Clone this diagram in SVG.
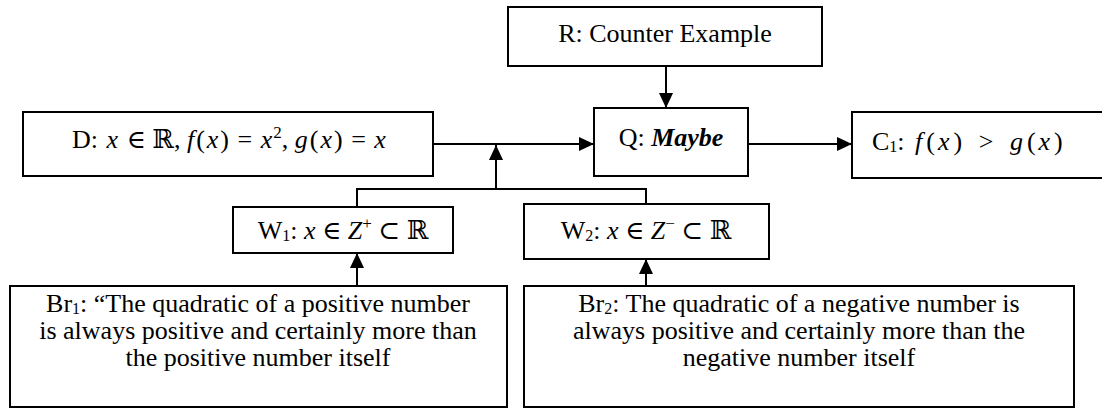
<svg xmlns="http://www.w3.org/2000/svg" width="1102" height="408" viewBox="0 0 1102 408">
<style>
.box{fill:#fff;stroke:#000;stroke-width:2}
.t{font-family:"Liberation Serif","DejaVu Serif",serif;font-size:26px;fill:#000}
.m{font-style:italic}
.c{text-anchor:middle}
.ln{fill:none;stroke:#000;stroke-width:2}
</style>
<defs>
<marker id="ah" markerUnits="userSpaceOnUse" markerWidth="16" markerHeight="14" refX="15" refY="7" orient="auto">
<path d="M0,0 L15,7 L0,14 Z" fill="#000"/>
</marker>
</defs>
<g id="connectors">
<line class="ln" x1="666" y1="66" x2="666" y2="108" marker-end="url(#ah)"/>
<line class="ln" x1="433" y1="144" x2="594" y2="144" marker-end="url(#ah)"/>
<line class="ln" x1="748" y1="144" x2="852" y2="144" marker-end="url(#ah)"/>
<line class="ln" x1="496" y1="189" x2="496" y2="145" marker-end="url(#ah)"/>
<polyline class="ln" points="357,207 357,189 646,189 646,204"/>
<line class="ln" x1="357" y1="286" x2="357" y2="253" marker-end="url(#ah)"/>
<line class="ln" x1="646" y1="286" x2="646" y2="259" marker-end="url(#ah)"/>
</g>
<g id="R">
<rect class="box" x="508" y="7" width="314" height="59"/>
<text class="t c" x="665" y="42">R: Counter Example</text>
</g>
<g id="D">
<rect class="box" x="23" y="112" width="410" height="64"/>
<text class="t" x="72" y="148">D: <tspan class="m" dx="2">x</tspan><tspan dx="2"> ∈ ℝ, </tspan><tspan class="m">f</tspan><tspan dx="2">(</tspan><tspan class="m" dx="2">x</tspan><tspan dx="2">)</tspan><tspan dx="2"> = </tspan><tspan class="m" dx="2">x</tspan><tspan font-size="17" dx="1" dy="-10">2</tspan><tspan dy="10">, </tspan><tspan class="m">g</tspan><tspan dx="2">(</tspan><tspan class="m" dx="2">x</tspan><tspan dx="2">)</tspan><tspan dx="2"> = </tspan><tspan class="m" dx="2">x</tspan></text>
</g>
<g id="Q">
<rect class="box" x="594" y="108" width="154" height="68"/>
<text class="t c" x="671" y="146">Q: <tspan font-weight="bold" font-style="italic">Maybe</tspan></text>
</g>
<g id="C1">
<rect class="box" x="852" y="112" width="260" height="66"/>
<text class="t" x="872" y="150">C<tspan font-size="16" dy="2">1</tspan><tspan dy="-2">: </tspan><tspan class="m" dx="4">f</tspan><tspan dx="4">(</tspan><tspan class="m" dx="3">x</tspan><tspan dx="4">)</tspan><tspan dx="10"> &gt; </tspan><tspan class="m" dx="10">g</tspan><tspan dx="4">(</tspan><tspan class="m" dx="3">x</tspan><tspan dx="4">)</tspan></text>
</g>
<g id="W1">
<rect class="box" x="233" y="207" width="220" height="46"/>
<text class="t c" x="343" y="239">W<tspan font-size="16" dy="2">1</tspan><tspan dy="-2">: </tspan><tspan class="m">x</tspan> ∈ <tspan class="m">Z</tspan><tspan font-size="17" dy="-10">+</tspan><tspan dy="10"> ⊂ ℝ</tspan></text>
</g>
<g id="W2">
<rect class="box" x="524" y="204" width="245" height="55"/>
<text class="t c" x="646" y="239">W<tspan font-size="16" dy="2">2</tspan><tspan dy="-2">: </tspan><tspan class="m">x</tspan> ∈ <tspan class="m">Z</tspan><tspan font-size="17" dy="-10">−</tspan><tspan dy="10"> ⊂ ℝ</tspan></text>
</g>
<g id="Br1">
<rect class="box" x="10" y="286" width="497" height="121"/>
<text class="t c" x="258" y="312">Br<tspan font-size="16" dy="2">1</tspan><tspan dy="-2">: “The quadratic of a positive number</tspan></text>
<text class="t c" x="258" y="339">is always positive and certainly more than</text>
<text class="t c" x="258" y="366">the positive number itself</text>
</g>
<g id="Br2">
<rect class="box" x="524" y="286" width="550" height="121"/>
<text class="t c" x="799" y="312">Br<tspan font-size="16" dy="2">2</tspan><tspan dy="-2">: The quadratic of a negative number is</tspan></text>
<text class="t c" x="799" y="339">always positive and certainly more than the</text>
<text class="t c" x="799" y="366">negative number itself</text>
</g>
</svg>
